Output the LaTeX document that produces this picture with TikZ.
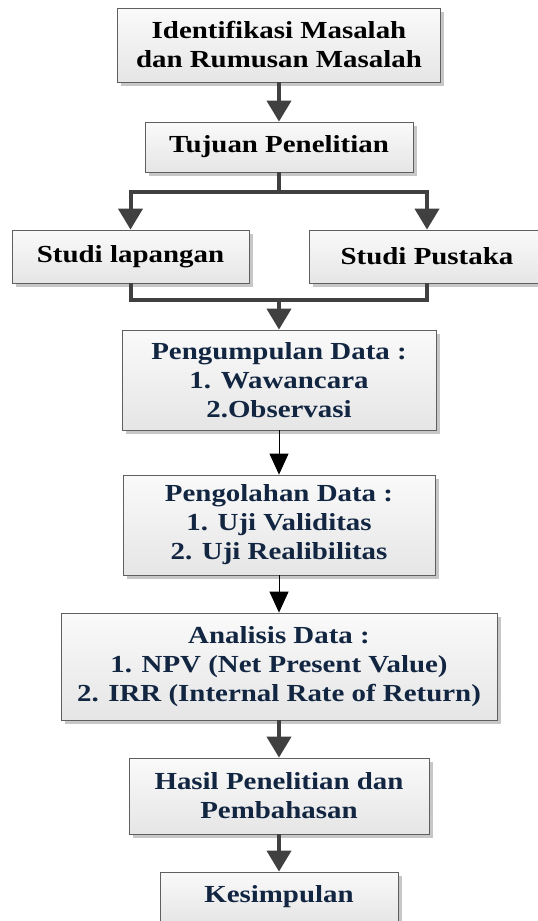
\documentclass[tikz,border=0pt]{standalone}
\usepackage{fontspec}
\newfontfamily\boxfont{Liberation Serif}[FakeStretch=1.18]
\usetikzlibrary{arrows.meta,shadows}
\definecolor{navy}{RGB}{18,38,66}
\definecolor{arrowgray}{RGB}{64,64,64}
\definecolor{bordergray}{RGB}{95,95,95}
\tikzset{
  box/.style={draw=bordergray, line width=0.8pt, top color=white!98!black, bottom color=white!90!black,
    drop shadow={shadow xshift=3.5pt, shadow yshift=-3.5pt, fill=black!22, opacity=1},
    inner sep=0pt, align=center, font=\boxfont\bfseries\fontsize{24.5}{29}\selectfont},
  thickarrow/.style={draw=arrowgray, line width=4pt, -{Triangle[width=24pt,length=21pt]}},
  thickline/.style={draw=arrowgray, line width=4pt},
  thinarrow/.style={draw=black, line width=1pt, -{Triangle[width=19pt,length=21pt]}}
}
\begin{document}
\begin{tikzpicture}[x=1pt,y=-1pt]
\useasboundingbox (0,0) rectangle (538,921);
\clip (0,0) rectangle (538,921);
\fill[white] (0,0) rectangle (538,921);
\node[box, text=black, minimum width=323pt, minimum height=74pt] (ident) at (279,45) {Identifikasi Masalah\\dan Rumusan Masalah};
\node[box, text=black, minimum width=268pt, minimum height=50pt] (tujuan) at (279,147) {Tujuan Penelitian};
\node[box, text=black, minimum width=237pt, minimum height=53pt] (lap) at (130.5,256.5) {Studi lapangan};
\node[box, text=black, minimum width=236pt, minimum height=53pt] (pus) at (427,256.5) {Studi Pustaka};
\node[box, text=navy, minimum width=314pt, minimum height=100pt] (kumpul) at (279,380) {Pengumpulan Data :\\1. Wawancara\\2.Observasi};
\node[box, text=navy, minimum width=312pt, minimum height=100pt] (olah) at (279,525) {Pengolahan Data :\\1. Uji Validitas\\2. Uji Realibilitas};
\node[box, text=navy, minimum width=436pt, minimum height=107pt] (anal) at (279,666.5) {Analisis Data :\\1. NPV (Net Present Value)\\2. IRR (Internal Rate of Return)};
\node[box, text=navy, minimum width=300pt, minimum height=76pt] (hasil) at (279,796) {Hasil Penelitian dan\\Pembahasan};
\node[box, text=navy, minimum width=238pt, minimum height=50pt] (kes) at (279,897) {Kesimpulan};
\coordinate (split) at (279,192);
\coordinate (merge) at (279,300);
\draw[thickarrow] (ident.south) -- (tujuan.north);
\draw[thickline] (tujuan.south) -- (split);
\draw[thickarrow] (split) -| (lap.north);
\draw[thickarrow] (split) -| (pus.north);
\draw[thickline] (lap.south) |- (merge);
\draw[thickline] (pus.south) |- (merge);
\draw[thickarrow] (merge) -- (kumpul.north);
\draw[thinarrow] (kumpul.south) -- (olah.north);
\draw[thinarrow] (olah.south) -- (anal.north);
\draw[thickarrow] (anal.south) -- (hasil.north);
\draw[thickarrow] (hasil.south) -- (kes.north);
\end{tikzpicture}
\end{document}
